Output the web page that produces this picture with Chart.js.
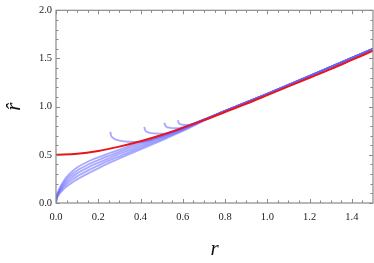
<!DOCTYPE html>
<html>
<head>
<meta charset="utf-8">
<script src="https://cdn.jsdelivr.net/npm/chart.js@4/dist/chart.umd.min.js"></script>
<style>
  body { margin: 0; background: #fff; }
  #wrap { width: 374px; height: 263px; }
</style>
</head>
<body>
<div id="wrap"><canvas id="chart" width="374" height="263"></canvas></div>
<script>
// curves
const rGrid = [0, 0.002, 0.007, 0.015, 0.03, 0.05, 0.075, 0.1, 0.15, 0.2, 0.25, 0.3, 0.4, 0.5, 0.6, 0.7, 0.8, 1.0, 1.2, 1.5];
const bundleA = [0, 0.052, 0.098, 0.143, 0.205, 0.270, 0.325, 0.368, 0.428, 0.474, 0.515, 0.555, 0.632, 0.705, 0.782, 0.865, 0.955, 1.133, 1.318, 1.600];
const bundleB = [0, 0.047, 0.089, 0.130, 0.186, 0.245, 0.296, 0.337, 0.397, 0.446, 0.490, 0.532, 0.613, 0.691, 0.774, 0.862, 0.955, 1.133, 1.318, 1.600];
const bundleC = [0, 0.043, 0.081, 0.118, 0.168, 0.220, 0.268, 0.307, 0.367, 0.417, 0.464, 0.509, 0.594, 0.678, 0.765, 0.860, 0.955, 1.133, 1.318, 1.600];
const bundleD = [0, 0.038, 0.072, 0.105, 0.149, 0.195, 0.239, 0.276, 0.336, 0.389, 0.439, 0.485, 0.575, 0.664, 0.757, 0.857, 0.955, 1.133, 1.318, 1.600];
const bundleE = [0, 0.034, 0.064, 0.093, 0.130, 0.170, 0.210, 0.245, 0.305, 0.360, 0.413, 0.462, 0.556, 0.650, 0.748, 0.855, 0.955, 1.133, 1.318, 1.600];

const hook1R = [0.257, 0.260, 0.267, 0.28, 0.30, 0.34, 0.40, 0.47, 0.55, 0.7, 1.0, 1.5];
const hook1Y = [0.740, 0.705, 0.680, 0.660, 0.648, 0.636, 0.634, 0.668, 0.728, 0.865, 1.133, 1.600];
const hook2R = [0.418, 0.421, 0.428, 0.44, 0.47, 0.51, 0.55, 0.6, 0.7, 1.0, 1.5];
const hook2Y = [0.790, 0.760, 0.742, 0.730, 0.722, 0.720, 0.735, 0.780, 0.865, 1.133, 1.600];
const hook3R = [0.513, 0.516, 0.522, 0.535, 0.57, 0.6, 0.63, 0.7, 1.0, 1.5];
const hook3Y = [0.834, 0.808, 0.792, 0.782, 0.776, 0.785, 0.805, 0.865, 1.133, 1.600];
const hook4R = [0.577, 0.580, 0.586, 0.60, 0.625, 0.65, 0.7, 1.0, 1.5];
const hook4Y = [0.860, 0.835, 0.820, 0.812, 0.810, 0.822, 0.865, 1.133, 1.600];

const redR = [0, 0.1, 0.2, 0.3, 0.4, 0.5, 0.6, 0.7, 0.8, 0.9, 1.0, 1.1, 1.2, 1.3, 1.4, 1.5];
const redY = [0.50, 0.51, 0.54, 0.585, 0.64, 0.705, 0.78, 0.86, 0.945, 1.03, 1.12, 1.21, 1.30, 1.39, 1.485, 1.58];

const xMajor = [0, 0.2, 0.4, 0.6, 0.8, 1.0, 1.2, 1.4];
const xMinor = [0.05, 0.1, 0.15, 0.25, 0.3, 0.35, 0.45, 0.5, 0.55, 0.65, 0.7, 0.75, 0.85, 0.9, 0.95, 1.05, 1.1, 1.15, 1.25, 1.3, 1.35, 1.45];
const yMajor = [0, 0.5, 1.0, 1.5, 2.0];
const yMinor = [0.1, 0.2, 0.3, 0.4, 0.6, 0.7, 0.8, 0.9, 1.1, 1.2, 1.3, 1.4, 1.6, 1.7, 1.8, 1.9];

const blue = 'rgba(100, 100, 255, 0.55)';
const red = 'rgb(235, 20, 25)';
const frameColor = '#8a8a8a';
const serif = "'Liberation Serif', 'DejaVu Serif', serif";

function pts(xs, ys) {
	return xs.map((x, i) => ({ x, y: ys[i] }))
}

function blueSet(xs, ys) {
	return {
		data: pts(xs, ys),
		borderColor: blue,
		borderWidth: 1.9,
		pointRadius: 0,
		cubicInterpolationMode: 'monotone',
		order: 1
	}
}

const datasets = [
	{
		data: pts(redR, redY),
		borderColor: red,
		borderWidth: 2,
		pointRadius: 0,
		cubicInterpolationMode: 'monotone',
		order: 0
	},
	blueSet(rGrid, bundleA),
	blueSet(rGrid, bundleB),
	blueSet(rGrid, bundleC),
	blueSet(rGrid, bundleD),
	blueSet(rGrid, bundleE),
	blueSet(hook1R, hook1Y),
	blueSet(hook2R, hook2Y),
	blueSet(hook3R, hook3Y),
	blueSet(hook4R, hook4Y)
];

// frame box with inward ticks on all four sides
const frameTicks = {
	id: 'frameTicks',
	afterDatasetsDraw(chart) {
		const { ctx, chartArea: a, scales: { x, y } } = chart
		ctx.save()
		ctx.strokeStyle = frameColor
		ctx.lineWidth = 1
		ctx.beginPath()
		const tick = (vals, len) => {
			for (const v of vals) {
				const px = Math.round(x.getPixelForValue(v)) + 0.5
				ctx.moveTo(px, a.bottom); ctx.lineTo(px, a.bottom - len)
				ctx.moveTo(px, a.top); ctx.lineTo(px, a.top + len)
			}
		}
		const tickY = (vals, len) => {
			for (const v of vals) {
				const py = Math.round(y.getPixelForValue(v)) + 0.5
				ctx.moveTo(a.left, py); ctx.lineTo(a.left + len, py)
				ctx.moveTo(a.right, py); ctx.lineTo(a.right - len, py)
			}
		}
		tick(xMajor, 4); tick(xMinor, 2.5)
		tickY(yMajor, 4); tickY(yMinor, 2.5)
		ctx.stroke()
		ctx.lineWidth = 1.2
		ctx.strokeRect(a.left, a.top, a.right - a.left, a.bottom - a.top)
		ctx.restore()
	}
}

new Chart(document.getElementById('chart'), {
	type: 'line',
	data: { datasets },
	options: {
		responsive: false,
		animation: false,
		devicePixelRatio: 1,
		layout: { padding: { top: 8, right: 1, left: 0, bottom: 0 } },
		plugins: { legend: { display: false }, tooltip: { enabled: false } },
		scales: {
			x: {
				type: 'linear',
				min: 0,
				max: 1.5,
				afterBuildTicks: s => { s.ticks = xMajor.map(value => ({ value })) },
				afterFit: s => { s.height = 60 },
				grid: { display: false, drawTicks: false },
				border: { display: false },
				ticks: {
					padding: 8,
					maxRotation: 0,
					color: '#222',
					font: { family: serif, size: 10.5 },
					callback: v => v.toFixed(1)
				},
				title: {
					display: true,
					text: 'r',
					color: '#111',
					font: { family: serif, size: 21, style: 'italic' },
					padding: { top: 0, bottom: 1 }
				}
			},
			y: {
				type: 'linear',
				min: 0,
				max: 2,
				afterBuildTicks: s => { s.ticks = yMajor.map(value => ({ value })) },
				afterFit: s => { s.width = 56 },
				grid: { display: false, drawTicks: false },
				border: { display: false },
				ticks: {
					padding: 4,
					color: '#222',
					font: { family: serif, size: 10.5 },
					callback: v => v.toFixed(1)
				},
				title: {
					display: true,
					text: 'r\u0302',
					color: '#111',
					font: { family: serif, size: 21, style: 'italic' },
					padding: { top: 2, bottom: 0 }
				}
			}
		}
	},
	plugins: [frameTicks]
});
</script>
</body>
</html>
